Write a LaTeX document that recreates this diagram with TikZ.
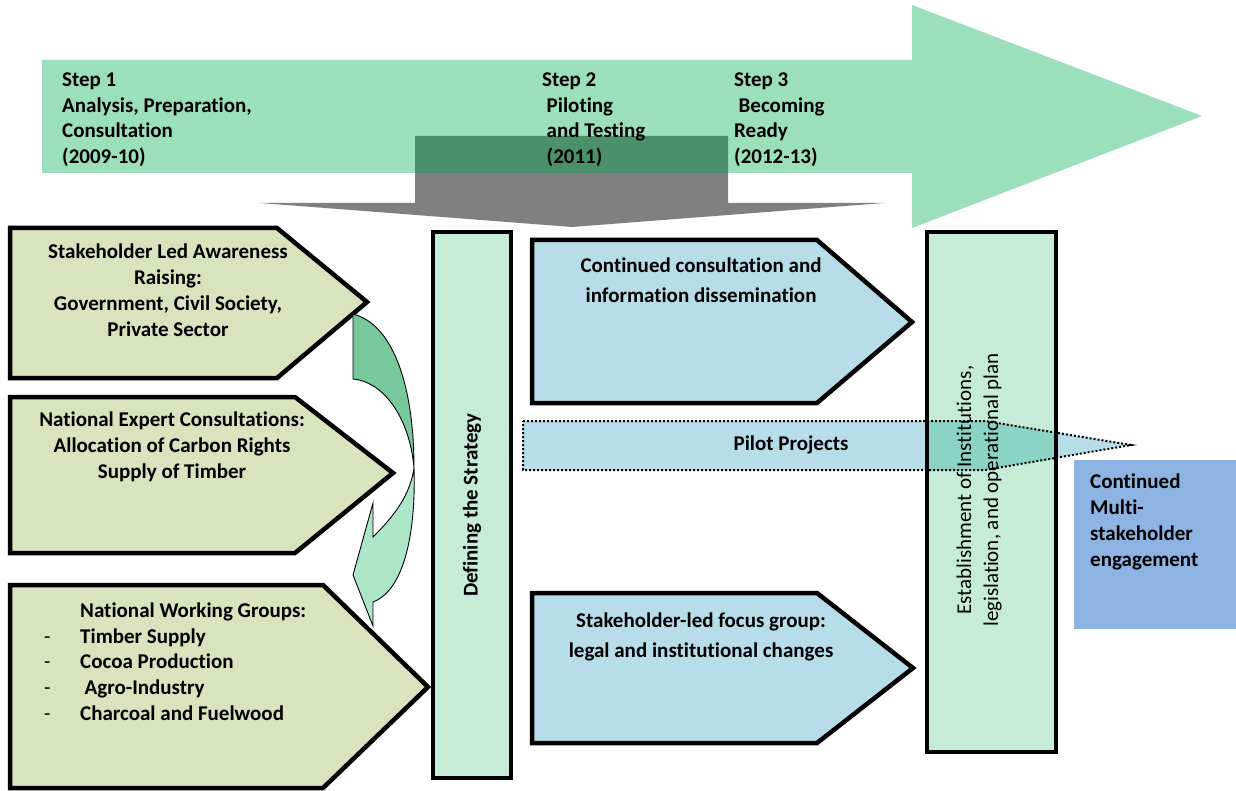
\documentclass[tikz,border=0pt]{standalone}
\usepackage{fontspec}
\setmainfont[Ligatures=NoCommon]{Carlito}
\definecolor{topgreen}{HTML}{9BDFBB}
\definecolor{arrowgray}{HTML}{808080}
\definecolor{darkover}{HTML}{4A916B}
\definecolor{leftfill}{HTML}{D7E4BD}
\definecolor{barfill}{HTML}{C6EBD7}
\definecolor{bluefill}{HTML}{B7DDE8}
\definecolor{pilotover}{HTML}{8AD3C5}
\definecolor{contfill}{HTML}{8DB3E2}
\definecolor{curvedark}{HTML}{77C99C}
\definecolor{curvelight}{HTML}{ADE5C8}
\begin{document}
\begin{tikzpicture}[x=1pt,y=-1pt,
  lbl/.style={font=\bfseries\fontsize{21}{26}\selectfont, inner sep=0pt, align=center},
  steptxt/.style={font=\bfseries\fontsize{21}{25.6}\selectfont, inner sep=0pt, align=left, anchor=base west},
  bluetxt/.style={font=\bfseries\fontsize{21}{30}\selectfont, inner sep=0pt, align=center, anchor=base},
  boxline/.style={line width=4.5pt, line join=miter, draw=black},
  curveline/.style={line width=0.9pt, draw=black}]
\useasboundingbox (0,0) rectangle (1236,791);

% top timeline arrow
\fill[topgreen] (42,60) -- (912,60) -- (912,5) -- (1202,116) -- (912,228) -- (912,173) -- (42,173) -- cycle;
% gray arrow
\fill[arrowgray] (415,136) -- (728,136) -- (728,203) -- (884,203) -- (572,227) -- (260,203) -- (415,203) -- cycle;
\fill[darkover] (415,136) rectangle (728,173);

% step texts (anchor = baseline of last line)
\node[steptxt] (s1) at (62,163.5) {Step 1\\Analysis, Preparation,\\Consultation\\(2009-10)};
\node[steptxt] (s2) at (542,163.5) {Step 2\\\hspace*{4.5pt}Piloting\\\hspace*{4.5pt}and Testing\\\hspace*{4.5pt}(2011)};
\node[steptxt] (s3) at (734,163.5) {Step 3\\\hspace*{4.5pt}Becoming\\Ready\\(2012-13)};

% left boxes
\draw[boxline, fill=leftfill] (10,228) -- (277,228) -- (367,302) -- (277,378) -- (10,378) -- cycle;
\draw[boxline, fill=leftfill] (10,397) -- (295,397) -- (393,473) -- (295,553) -- (10,553) -- cycle;
\draw[boxline, fill=leftfill] (10,585) -- (323,585) -- (428,687) -- (323,788) -- (10,788) -- cycle;

\node[lbl, anchor=base] (b1) at (168,336.5) {Stakeholder Led Awareness\\Raising:\\Government, Civil Society,\\Private Sector};
\node[lbl, anchor=base] (b2) at (172,478.5) {National Expert Consultations:\\Allocation of Carbon Rights\\Supply of Timber};
\node[steptxt] (b3) at (44,720) {\hspace*{36pt}National Working Groups:\\
  \makebox[36pt][l]{\mdseries -}Timber Supply\\
  \makebox[36pt][l]{\mdseries -}Cocoa Production\\
  \makebox[36pt][l]{\mdseries -}\hspace*{4.5pt}Agro-Industry\\
  \makebox[36pt][l]{\mdseries -}Charcoal and Fuelwood};

% curved arrows
\draw[curveline, fill=curvelight] (414,468) .. controls (416,530) and (405,590) .. (373,602) -- (373,626) -- (353,575) -- (373,503) -- (373,537) .. controls (395,515) and (410,495) .. (414,468) -- cycle;
\draw[curveline, fill=curvedark] (353,314) .. controls (395,325) and (414,390) .. (414,468) .. controls (410,420) and (385,382) .. (353,379) -- cycle;

% defining bar
\draw[boxline, fill=barfill] (433,232) rectangle (511,778);
\node[lbl, rotate=90] (def) at (472,505) {Defining the Strategy};

% blue boxes
\draw[boxline, fill=bluefill] (532,240) -- (817,240) -- (912,322) -- (817,403) -- (532,403) -- cycle;
\node[bluetxt] (c1) at (701,302.5) {Continued consultation and\\information dissemination};
\draw[boxline, fill=bluefill] (532,593) -- (817,593) -- (913,668) -- (817,743) -- (532,743) -- cycle;
\node[bluetxt] (c2) at (701,657) {Stakeholder-led focus group:\\legal and institutional changes};

% establishment bar
\draw[boxline, fill=barfill] (927,232) rectangle (1056,752);

% continued box
\fill[contfill] (1074,460) rectangle (1236,629);
\node[steptxt, font=\bfseries\fontsize{21}{25.9}\selectfont] (cm) at (1090,566.5) {Continued\\Multi-\\stakeholder\\engagement};

% pilot projects arrow
\fill[bluefill] (523,421) -- (985,421) -- (1131,445) -- (985,470) -- (523,470) -- cycle;
\begin{scope}
  \clip (927,232) rectangle (1056,752);
  \fill[pilotover] (523,421) -- (985,421) -- (1131,445) -- (985,470) -- (523,470) -- cycle;
\end{scope}
\draw[boxline] (927,232) rectangle (1056,752);
\draw[dotted, line width=2pt] (523,421) -- (985,421) -- (1131,445) -- (985,470) -- (523,470) -- cycle;
\node[lbl] (pp) at (791,445) {Pilot Projects};

\node[font=\fontsize{21}{27}\selectfont, inner sep=0pt, align=center, rotate=90] (est) at (979,490) {Establishment of Institutions,\\legislation, and operational plan};
\end{tikzpicture}
\end{document}
